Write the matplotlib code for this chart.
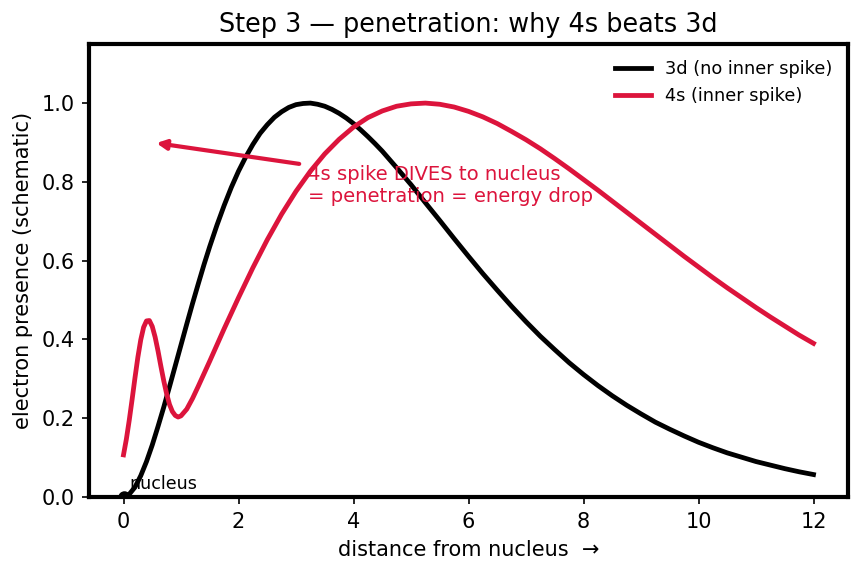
import matplotlib
matplotlib.use("Agg")
import matplotlib.pyplot as plt

# distance from nucleus (schematic units) and curve heights
r_3d = [0.0, 0.1, 0.2, 0.3, 0.4, 0.5, 0.6, 0.7, 0.8, 0.9, 1.0, 1.1, 1.2, 1.3, 1.4, 1.5,
        1.625, 1.75, 1.875, 2.0, 2.125, 2.25, 2.375, 2.5, 2.625, 2.75, 2.875, 3.0,
        3.125, 3.25, 3.375, 3.5, 3.625, 3.75, 3.875, 4.0, 4.125, 4.25, 4.375, 4.5,
        4.75, 5.0, 5.25, 5.5, 5.75, 6.0, 6.25, 6.5, 6.75, 7.0, 7.25, 7.5, 7.75, 8.0,
        8.25, 8.5, 8.75, 9.0, 9.25, 9.5, 9.75, 10.0, 10.25, 10.5, 10.75, 11.0, 11.25,
        11.5, 11.75, 12.0]
y_3d = [0.000, 0.007, 0.025, 0.054, 0.090, 0.132, 0.179, 0.228, 0.280, 0.333, 0.386,
        0.439, 0.491, 0.541, 0.590, 0.636, 0.690, 0.740, 0.786, 0.827, 0.863, 0.895,
        0.923, 0.945, 0.964, 0.978, 0.989, 0.996, 0.999, 1.000, 0.997, 0.992, 0.984,
        0.974, 0.962, 0.948, 0.932, 0.915, 0.897, 0.878, 0.836, 0.793, 0.747, 0.702,
        0.656, 0.611, 0.567, 0.525, 0.484, 0.445, 0.408, 0.374, 0.341, 0.311, 0.283,
        0.257, 0.233, 0.211, 0.190, 0.172, 0.155, 0.139, 0.125, 0.112, 0.101, 0.090,
        0.081, 0.072, 0.064, 0.057]

r_4s = [0.0, 0.05, 0.1, 0.15, 0.2, 0.25, 0.3, 0.35, 0.4, 0.45, 0.5, 0.55, 0.6, 0.65,
        0.7, 0.75, 0.8, 0.85, 0.9, 0.95, 1.0, 1.1, 1.2, 1.3, 1.4, 1.5,
        1.75, 2.0, 2.25, 2.5, 2.75, 3.0, 3.25, 3.5, 3.75, 4.0, 4.25, 4.5, 4.75, 5.0,
        5.25, 5.5, 5.75, 6.0, 6.25, 6.5, 6.75, 7.0, 7.25, 7.5, 7.75, 8.0, 8.25, 8.5,
        8.75, 9.0, 9.25, 9.5, 9.75, 10.0, 10.25, 10.5, 10.75, 11.0, 11.25, 11.5,
        11.75, 12.0]
y_4s = [0.107, 0.147, 0.195, 0.248, 0.303, 0.355, 0.399, 0.431, 0.447, 0.448, 0.433,
        0.406, 0.371, 0.332, 0.295, 0.262, 0.235, 0.217, 0.207, 0.203, 0.206, 0.223,
        0.250, 0.281, 0.313, 0.345, 0.427, 0.506, 0.582, 0.653, 0.718, 0.776, 0.827,
        0.871, 0.908, 0.939, 0.963, 0.980, 0.992, 0.998, 1.000, 0.997, 0.990, 0.979,
        0.965, 0.948, 0.928, 0.907, 0.884, 0.859, 0.833, 0.806, 0.779, 0.751, 0.723,
        0.695, 0.667, 0.639, 0.611, 0.584, 0.557, 0.531, 0.506, 0.481, 0.457, 0.434,
        0.411, 0.390]

RED = "crimson"

fig = plt.figure(figsize=(862 / 150, 573 / 150), dpi=150)
ax = fig.add_axes([89 / 862, 1 - 497 / 573, (848 - 89) / 862, (497 - 44) / 573])

ax.plot(r_3d, y_3d, color="black", lw=2.3, label="3d (no inner spike)")
ax.plot(r_4s, y_4s, color=RED, lw=2.3, label="4s (inner spike)")

ax.plot(0, 0, "ko", ms=5)
ax.text(0.1, 0.02, "nucleus", fontsize=8.4)

ax.annotate("4s spike DIVES to nucleus\n= penetration = energy drop",
            xy=(0.5, 0.9), xytext=(3.2, 0.748), color=RED, fontsize=9.4,
            arrowprops=dict(arrowstyle="-|>", color=RED, lw=2))

ax.set_ylim(0, 1.15)
ax.set_title("Step 3 — penetration: why 4s beats 3d", fontsize=12.25)
ax.set_xlabel("distance from nucleus  →")
ax.set_ylabel("electron presence (schematic)")
ax.legend(loc="upper right", frameon=False, fontsize=8.5)
for s in ax.spines.values():
    s.set_linewidth(2)

fig.savefig("out.png", dpi=150)
